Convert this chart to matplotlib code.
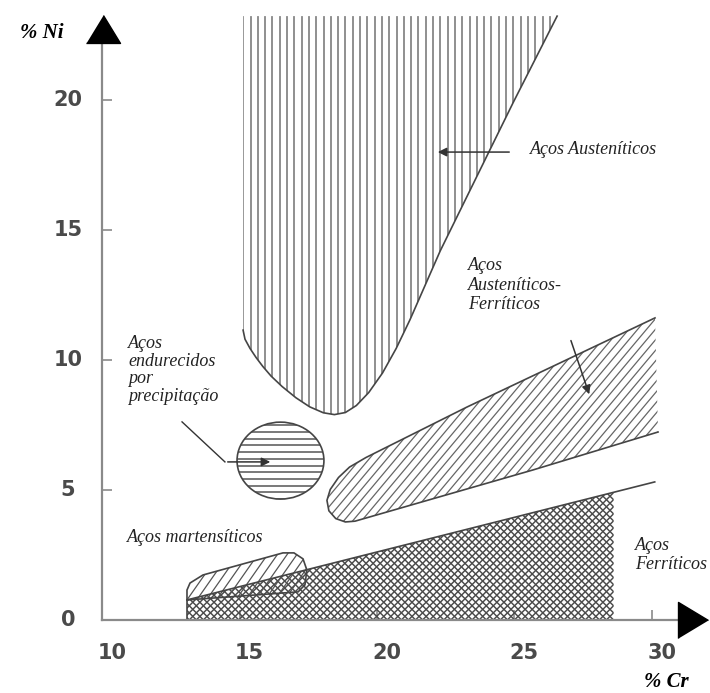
import matplotlib
matplotlib.use("Agg")
import matplotlib.pyplot as plt
import numpy as np
from matplotlib.patches import Polygon, Ellipse
from matplotlib.collections import LineCollection

# --- data (% Cr, % Ni) ---
aust_cr = [15.13, 15.13, 15.20, 15.38, 15.60, 15.85, 16.15, 16.55, 17.05, 17.55, 18.05,
           18.45, 18.85, 19.25, 19.70, 20.20, 20.70, 21.20, 22.30, 24.95, 26.55]
aust_ni = [23.23, 11.15, 10.80, 10.45, 10.10, 9.75, 9.38, 8.98, 8.55, 8.20, 7.97,
           7.90, 7.98, 8.25, 8.75, 9.50, 10.45, 11.55, 14.20, 19.90, 23.23]

duplex_cr = [30.11, 23.27, 19.60, 19.00, 18.60, 18.30, 18.18, 18.25, 18.50, 18.85, 19.20, 25.67, 30.22]
duplex_ni = [11.62, 8.19, 6.25, 5.88, 5.48, 5.02, 4.60, 4.20, 3.90, 3.77, 3.80, 5.77, 7.23]

mart_cr = [13.09, 13.09, 13.20, 13.67, 16.58, 16.98, 17.31, 17.45, 17.38, 17.13]
mart_ni = [0.77, 1.15, 1.42, 1.73, 2.58, 2.58, 2.35, 1.92, 1.35, 1.08]

ferr_cr = [13.09, 13.09, 28.60, 28.60]
ferr_ni = [0.0, 0.77, 4.90, 0.0]
ferr_line_cr = [13.09, 30.10]
ferr_line_ni = [0.77, 5.31]

prec_center = (16.49, 6.13)
prec_size = (3.16, 2.96)

xticks = [10, 15, 20, 25, 30]
yticks = [0, 5, 10, 15, 20]

labels = {
    'aust': 'Aços Austeníticos',
    'duplex': 'Aços\nAusteníticos-\nFerríticos',
    'prec': 'Aços\nendurecidos\npor\nprecipitação',
    'mart': 'Aços martensíticos',
    'ferr': 'Aços\nFerríticos',
}

fig = plt.figure(figsize=(7.1, 6.93), dpi=100)
ax = fig.add_axes([0, 0, 1, 1])
ax.set_xlim(6.29, 32.11)
ax.set_ylim(-2.81, 23.85)
ax.patch.set_visible(False)


def hatch(patch, angle, step, color, lw, z=2):
    # hatch lines in pixel space, clipped to the patch
    verts = patch.get_path().transformed(patch.get_transform()).vertices
    a = np.radians(angle)
    d = np.array([np.cos(a), np.sin(a)])
    n = np.array([-np.sin(a), np.cos(a)])
    proj = verts @ n
    c = verts.mean(axis=0)
    L = np.ptp(verts, axis=0).sum() + 20
    segs = []
    for o in np.arange(proj.min() - step, proj.max() + step, step):
        base = c + (o - c @ n) * n
        p = np.array([base - L * d, base + L * d])
        segs.append(ax.transData.inverted().transform(p))
    lc = LineCollection(segs, colors=color, linewidths=lw, zorder=z)
    lc.set_clip_path(patch)
    ax.add_collection(lc)


edge = '#454545'

# austenitic
aust = Polygon(np.column_stack([aust_cr, aust_ni]), closed=True, fc='none', ec='none')
ax.add_patch(aust)
hatch(aust, 90, 7.3, '#777777', 1.15)
ax.plot(aust_cr[1:], aust_ni[1:], color=edge, lw=1.2, zorder=3)

# duplex
dup = Polygon(np.column_stack([duplex_cr, duplex_ni]), closed=True, fc='none', ec='none')
ax.add_patch(dup)
hatch(dup, 50, 6.8, '#666666', 0.9)
ax.plot(duplex_cr, duplex_ni, color=edge, lw=1.2, zorder=3)

# ferritic (crosshatch)
ferr = Polygon(np.column_stack([ferr_cr, ferr_ni]), closed=True, fc='none', ec='none')
ax.add_patch(ferr)
hatch(ferr, 45, 5.0, '#4a4a4a', 1.05)
hatch(ferr, 135, 5.0, '#4a4a4a', 1.05)
ax.plot(ferr_line_cr, ferr_line_ni, color=edge, lw=1.2, zorder=3)
ax.plot(ferr_cr[:2], ferr_ni[:2], color=edge, lw=1.2, zorder=3)

# martensitic
mart = Polygon(np.column_stack([mart_cr, mart_ni]), closed=True, fc='none', ec=edge, lw=1.2, zorder=3)
ax.add_patch(mart)
hatch(mart, 55, 8.0, '#555555', 0.9)

# precipitation hardening
prec = Ellipse(prec_center, prec_size[0], prec_size[1], fc='none', ec=edge, lw=1.2, zorder=3)
ax.add_patch(prec)
hatch(prec, 0, 6.7, '#555555', 1.1)

# axes
for s in ['top', 'right']:
    ax.spines[s].set_visible(False)
ax.spines['left'].set_position(('data', 10))
ax.spines['bottom'].set_position(('data', 0))
ax.spines['left'].set_bounds(0, 22.25)
ax.spines['bottom'].set_bounds(10, 30.95)
for s in ['left', 'bottom']:
    ax.spines[s].set_color('#8a8a8a')
    ax.spines[s].set_linewidth(1.6)
    ax.spines[s].set_zorder(5)
ax.set_xticks(xticks)
ax.set_yticks(yticks)
ax.tick_params(direction='in', length=7, width=1.2, color='#8a8a8a',
               labelleft=False, labelbottom=False)

up = [(-1, -0.82), (1, -0.82), (0, 0.82)]
right = [(-0.83, -1), (-0.83, 1), (0.83, 0)]
ax.plot([10.05], [22.73], marker=up, ms=24.5, color='black', clip_on=False, zorder=6)
ax.plot([31.49], [0], marker=right, ms=26, color='black', clip_on=False, zorder=6)

tick_font = dict(fontsize=15, fontweight='bold', color='#4a4a4a', family='DejaVu Sans')
for v in xticks:
    ax.text(v + 0.36, -1.27, str(v), ha='center', va='center', **tick_font)
for v in yticks:
    ax.text(8.76, v, str(v), ha='center', va='center', **tick_font)

title_font = dict(family='Liberation Serif', style='italic', fontweight='bold',
                  fontsize=15, color='black')
ax.text(7.82, 22.58, '% Ni', ha='center', va='center', **title_font)
ax.text(30.51, -2.38, '% Cr', ha='center', va='center', **title_font)

lab = dict(family='Liberation Serif', style='italic', fontsize=13, color='#222222')
ax.text(25.56, 18.08, labels['aust'], ha='left', va='center', **lab)
ax.text(23.31, 12.88, labels['duplex'], ha='left', va='center', linespacing=1.2, **lab)
ax.text(10.95, 9.62, labels['prec'], ha='left', va='center', linespacing=1.05, **lab)
ax.text(10.91, 3.19, labels['mart'], ha='left', va='center', **lab)
ax.text(29.38, 2.5, labels['ferr'], ha='left', va='center', linespacing=1.1, **lab)

# pointer arrows
arr = dict(arrowstyle='-|>', color='#333333', lw=1.1, mutation_scale=13)
ax.annotate('', xy=(22.11, 18.0), xytext=(24.91, 18.0), arrowprops=arr)
ax.annotate('', xy=(27.75, 8.58), xytext=(27.02, 10.85), arrowprops=arr)
ax.plot([12.91, 14.47], [7.62, 6.08], color='#333333', lw=1.0, zorder=4)
ax.annotate('', xy=(16.22, 6.08), xytext=(14.47, 6.08), arrowprops=arr, zorder=4)

fig.savefig('out.png', dpi=100)
